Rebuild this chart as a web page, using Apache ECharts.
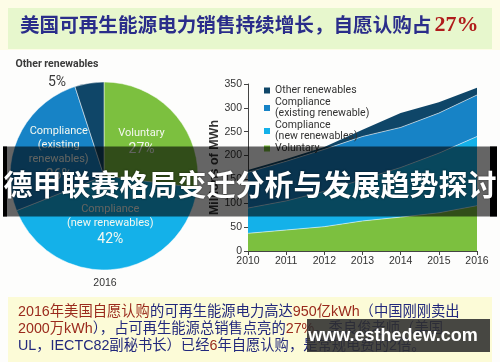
<!DOCTYPE html>
<html><head><meta charset="utf-8">
<script src="https://cdn.jsdelivr.net/npm/echarts@6/dist/echarts.min.js"></script>
<style>html,body{margin:0;padding:0;background:#fdfdfc;}#c{width:500px;height:362px;}</style>
</head><body><div id="c"></div>
<script>
// ---- data ----
const years = ['2010', '2011', '2012', '2013', '2014', '2015', '2016'];
const voluntary = [37, 44, 51, 63, 71, 80, 95];
const complianceNew = [53, 61, 74, 87, 104, 125, 145];
const complianceExisting = [75, 83, 88, 90, 84, 84, 87];
const otherRenewables = [5, 5, 5, 14, 30, 23, 15];
const yTicks = { min: 0, max: 350, interval: 50 };
const pieNames = ['Voluntary', 'Compliance\n(new renewables)', 'Compliance\n(existing\nrenewables)', 'Other renewables'];
const pieValues = [27, 42, 26, 5];
const pieYear = '2016';
const areaNames = ['Voluntary', 'Compliance\n(new renewables)', 'Compliance\n(existing renewable)', 'Other renewables'];
const legendOrder = ['Other renewables', 'Compliance\n(existing renewable)', 'Compliance\n(new renewables)', 'Voluntary'];
const headTitle = '美国可再生能源电力销售持续增长，自愿认购占';
const headPct = '27%';
const overlayTitle = '德甲联赛格局变迁分析与发展趋势探讨';
const watermark = 'www.esthedew.com';

// ---- styles ----
const colors = ['#7cc03f', '#14b1e9', '#1783c6', '#0f4668'];
const narrow = "Roboto,'Liberation Sans',sans-serif";
const sans = "'Liberation Sans',Arial,sans-serif";
const cjk = "'Liberation Sans','Noto Sans CJK SC',sans-serif";
const RED = '#9a2a1c', NAVY = '#22287c';

const chart = echarts.init(document.getElementById('c'));

const areaSeries = areaNames.map((n, i) => ({
  type: 'line', name: n, stack: 'total',
  data: [voluntary, complianceNew, complianceExisting, otherRenewables][i],
  symbol: 'none', smooth: false,
  itemStyle: { color: colors[i] },
  lineStyle: { width: i === 3 ? 0 : 1, color: 'rgba(255,255,255,0.55)' },
  areaStyle: { color: colors[i], opacity: 1 },
  animation: false, silent: true
}));

const pieData = pieNames.map((n, i) => {
  const d = { name: n, value: pieValues[i], itemStyle: { color: colors[i] } };
  if (i === 3) {
    d.label = {
      position: 'outside', overflow: 'none', alignTo: 'none',
      formatter: p => '{o|' + p.name + '}\n{op|' + p.value + '%}',
      rich: {
        o: { fontSize: 10.5, lineHeight: 17, color: '#3a3a3a', fontFamily: narrow, fontWeight: 'bold' },
        op: { fontSize: 14, lineHeight: 19, color: '#3a3a3a', fontFamily: narrow }
      }
    };
    d.labelLine = { show: false };
  }
  return d;
});

function line(segs, y) {
  const rich = {
    r: { fontSize: 14.3, fontFamily: cjk, fill: RED, color: RED },
    n: { fontSize: 14.3, fontFamily: cjk, fill: NAVY, color: NAVY }
  };
  return {
    type: 'text', z: 5,
    style: { x: 18, y: y, text: segs.map(s => '{' + s[0] + '|' + s[1] + '}').join(''), rich: rich, verticalAlign: 'middle', align: 'left' }
  };
}

const option = {
  animation: false,
  grid: { left: 248, right: 23, top: 84, bottom: 111, containLabel: false, outerBoundsMode: 'none' },
  legend: {
    orient: 'vertical', left: 259, top: 80, itemWidth: 6, itemHeight: 6, itemGap: 1, icon: 'rect',
    selectedMode: false,
    textStyle: { fontSize: 10.5, lineHeight: 11, color: '#333', fontFamily: narrow },
    data: legendOrder.map(n => n.indexOf('\n') >= 0 ? { name: n, textStyle: { padding: [0, 0, -11, 0] } } : { name: n })
  },
  xAxis: {
    type: 'category', data: years, boundaryGap: false,
    axisLine: { lineStyle: { color: '#444', width: 1 } },
    axisTick: { show: true, length: 4, lineStyle: { color: '#444' } },
    axisLabel: { fontSize: 10.5, color: '#333', margin: 5, fontFamily: sans },
    splitLine: { show: false }
  },
  yAxis: {
    type: 'value', min: yTicks.min, max: yTicks.max, interval: yTicks.interval,
    name: 'Millions of MWh', nameLocation: 'middle', nameGap: 27,
    nameTextStyle: { fontSize: 12.5, fontWeight: 'bold', color: '#333', fontFamily: sans },
    axisLine: { show: true, lineStyle: { color: '#444' } },
    axisTick: { show: true, length: 4, lineStyle: { color: '#444' } },
    axisLabel: { fontSize: 10.5, color: '#333', margin: 6, fontFamily: sans },
    splitLine: { show: false }
  },
  series: [
    ...areaSeries,
    {
      type: 'pie', name: 'pie', center: [104, 176], radius: [0, 94], startAngle: 90, clockwise: true,
      silent: true, animation: false,
      itemStyle: { borderColor: 'rgba(255,255,255,0.6)', borderWidth: 0.8 },
      label: {
        show: true, position: 'inside', overflow: 'none',
        formatter: p => '{t|' + p.name + '}\n{p|' + p.value + '%}',
        rich: {
          t: { fontSize: 11, lineHeight: 14, color: '#f4f8f0', fontFamily: narrow },
          p: { fontSize: 14, lineHeight: 19, color: '#f4f8f0', fontFamily: narrow }
        }
      },
      labelLine: { show: false },
      labelLayout: function (params) {
        if (params.dataIndex === 3) return { x: 57, y: 74, align: 'center', verticalAlign: 'middle' };
        return {};
      },
      data: pieData
    }
  ],
  graphic: [
    { type: 'rect', z: -10, shape: { x: 0, y: 0, width: 500, height: 50 }, style: { fill: '#fdfce6' } },
    { type: 'rect', z: -9, shape: { x: 8, y: 8, width: 484, height: 41 }, style: { fill: '#e7f7cd' } },
    { type: 'text', z: 5, style: {
        x: 20, y: 25, verticalAlign: 'middle', align: 'left',
        text: '{a|' + headTitle + '}{b|' + headPct + '}',
        rich: {
          a: { fontSize: 19.6, fontWeight: 'bold', fontFamily: "'Noto Sans CJK SC',sans-serif", color: '#2a2d8a', fill: '#2a2d8a' },
          b: { fontSize: 22, fontWeight: 'bold', fontFamily: "'Liberation Serif',serif", color: '#b01b1b', fill: '#b01b1b', padding: [0, 0, 0, 3] }
        }
      } },
    { type: 'text', z: 5, style: { x: 105, y: 283, text: pieYear, align: 'center', verticalAlign: 'middle', font: '10.5px ' + sans, fill: '#333' } },
    { type: 'rect', z: -10, shape: { x: 8, y: 297, width: 484, height: 65 }, style: { fill: '#fcfbd7' } },
    line([['r', '2016年美国自愿认购'], ['n', '的可再生能源电力高达'], ['r', '950亿kWh'], ['n', '（中国刚刚卖出']], 312),
    line([['r', '2000万kWh'], ['n', '），占可再生能源总销售点亮的'], ['r', '27%'], ['n', '。季良俊老师（美国']], 329),
    line([['n', 'UL，IECTC82副秘书长）已经'], ['r', '6'], ['n', '年自愿认购，是常规电费的2倍。']], 346),
    { type: 'rect', z: 50, shape: { x: 307, y: 319, width: 183, height: 33 }, style: { fill: 'rgba(45,45,45,0.88)' } },
    { type: 'text', z: 51, style: { x: 393, y: 336, text: watermark, align: 'center', verticalAlign: 'middle', font: 'bold 18px ' + sans, fill: '#ffffff' } },
    { type: 'rect', z: 100, shape: { x: 3, y: 146.5, width: 494, height: 70 }, style: { fill: 'rgba(0,0,0,0.6)' } },
    { type: 'rect', z: 101, shape: { x: 3, y: 146.5, width: 4, height: 70 }, style: { fill: '#000' } },
    { type: 'rect', z: 101, shape: { x: 490, y: 146.5, width: 7, height: 70 }, style: { fill: '#000' } },
    { type: 'text', z: 102, style: {
        x: 250, y: 185, text: overlayTitle, align: 'center', verticalAlign: 'middle',
        font: 'bold 29px "Noto Sans CJK SC", sans-serif', fill: '#ffffff',
        textShadowColor: 'rgba(0,0,0,0.6)', textShadowBlur: 2
      } }
  ]
};
chart.setOption(option);
</script>
</body></html>
